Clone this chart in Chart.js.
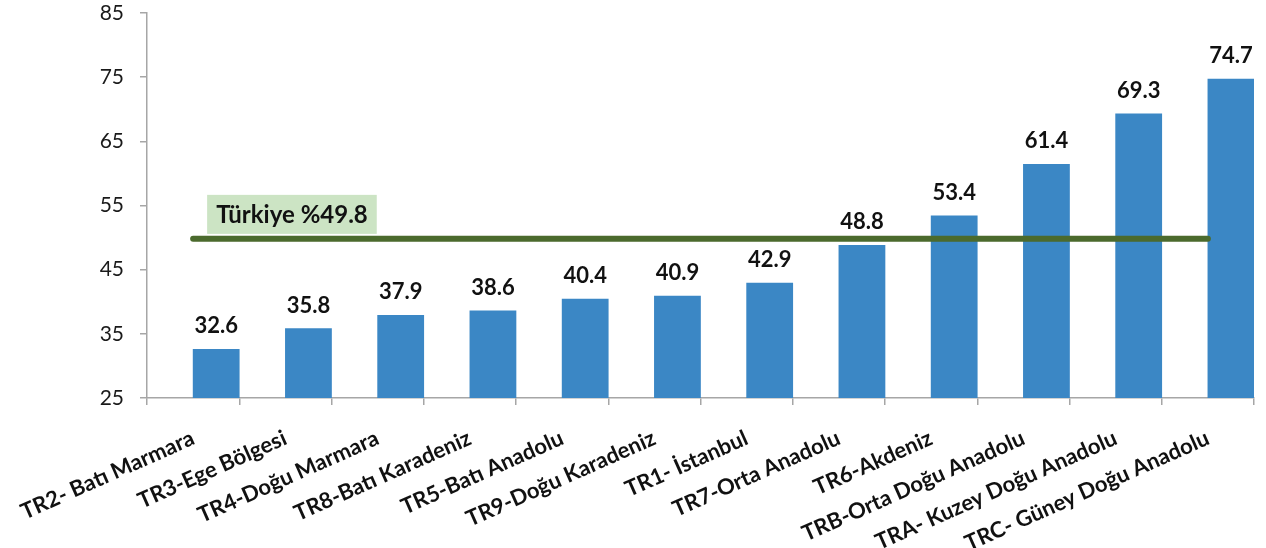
<!DOCTYPE html>
<html>
<head>
<meta charset="utf-8">
<script src="https://cdn.jsdelivr.net/npm/chart.js@4"></script>
<style>
  html, body { margin: 0; padding: 0; background: #fff; }
  #wrap { width: 1266px; height: 548px; }
</style>
</head>
<body>
<div id="wrap"><canvas id="chart"></canvas></div>
<script>
// regions, sorted by rate
const regions = [
  'TR2- Batı Marmara', 'TR3-Ege Bölgesi', 'TR4-Doğu Marmara', 'TR8-Batı Karadeniz',
  'TR5-Batı Anadolu', 'TR9-Doğu Karadeniz', 'TR1- İstanbul', 'TR7-Orta Anadolu',
  'TR6-Akdeniz', 'TRB-Orta Doğu Anadolu', 'TRA- Kuzey Doğu Anadolu', 'TRC- Güney Doğu Anadolu'
];
const rates = [32.6, 35.8, 37.9, 38.6, 40.4, 40.9, 42.9, 48.8, 53.4, 61.4, 69.3, 74.7];
const turkiye = 49.8;
const turkiyeLabel = 'Türkiye %49.8';
const yTicks = [25, 35, 45, 55, 65, 75, 85];

const FONT = 'Lato, "Open Sans", sans-serif';
const AXIS = '#A6A6A6';

// values above the bars
const barLabels = {
  id: 'barLabels',
  afterDatasetsDraw(chart) {
    const ctx = chart.ctx;
    const meta = chart.getDatasetMeta(2);
    ctx.save();
    ctx.font = 'bold 22px ' + FONT;
    ctx.fillStyle = '#111';
    ctx.textAlign = 'center';
    ctx.textBaseline = 'alphabetic';
    meta.data.forEach((bar, i) => {
      ctx.fillText(rates[i].toFixed(1), bar.x, bar.y - 16);
    });
    ctx.restore();
  }
};

// green box with the national average
const avgLabel = {
  id: 'avgLabel',
  afterDraw(chart) {
    const ctx = chart.ctx;
    const x0 = chart.scales.x.getPixelForValue(0) + 14;
    const yb = chart.scales.y.getPixelForValue(turkiye) - 5;
    ctx.save();
    ctx.font = 'bold 24px ' + FONT;
    const w = ctx.measureText(turkiyeLabel).width + 18;
    ctx.fillStyle = '#CCE4C4';
    ctx.fillRect(x0, yb - 39, w, 39);
    ctx.fillStyle = '#111';
    ctx.textBaseline = 'middle';
    ctx.fillText(turkiyeLabel, x0 + 9, yb - 19);
    ctx.restore();
  }
};

new Chart(document.getElementById('chart'), {
  data: {
    labels: regions,
    datasets: [
      {
        type: 'line',
        data: regions.map(() => turkiye),
        borderColor: '#4B6A2D',
        borderWidth: 6,
        borderCapStyle: 'round',
        pointRadius: 0,
        order: 0
      },
      {
        // empty slot so the bars sit in the right half of each category
        type: 'bar',
        data: regions.map(() => null),
        order: 1
      },
      {
        type: 'bar',
        data: rates,
        backgroundColor: '#3B87C5',
        borderWidth: 0,
        order: 1
      }
    ]
  },
  options: {
    responsive: true,
    maintainAspectRatio: false,
    animation: false,
    datasets: { bar: { categoryPercentage: 1, barPercentage: 1 } },
    layout: { padding: { top: 13, right: 12, left: 0, bottom: 0 } },
    plugins: { legend: { display: false }, tooltip: { enabled: false } },
    scales: {
      x: {
        offset: true,
        border: { color: AXIS, width: 1.5 },
        grid: { drawOnChartArea: false, color: AXIS, tickLength: 7, lineWidth: 1.5, offset: true },
        ticks: {
          minRotation: 24, maxRotation: 24, padding: 20, autoSkip: false,
          color: '#111', font: { family: FONT, size: 22, weight: 'bold' }
        },
        afterFit(scale) {
          scale.height = 150;
          scale.paddingLeft = 0;
          scale.paddingRight = 0;
        }
      },
      y: {
        min: 25, max: 85,
        afterBuildTicks(scale) { scale.ticks = yTicks.map(v => ({ value: v })); },
        border: { color: AXIS, width: 1.5 },
        grid: { drawOnChartArea: false, color: AXIS, tickLength: 7, lineWidth: 1.5 },
        ticks: { padding: 16, color: '#1a1a1a', font: { family: FONT, size: 21 } },
        afterFit(scale) {
          scale.width = 147;
          scale.paddingTop = 0;
          scale.paddingBottom = 0;
        }
      }
    }
  },
  plugins: [barLabels, avgLabel]
});
</script>
</body>
</html>
